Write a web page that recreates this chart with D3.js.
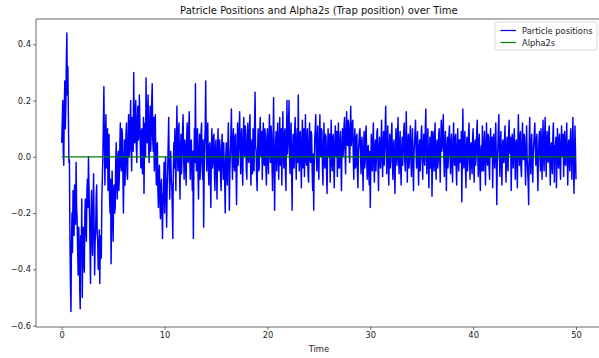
<!DOCTYPE html>
<html>
<head>
<meta charset="utf-8">
<script src="https://cdn.jsdelivr.net/npm/d3@7"></script>
<style>
  html, body { margin: 0; padding: 0; background: #fff; overflow: hidden; }
  svg { display: block; font-family: "DejaVu Sans", sans-serif; }
</style>
</head>
<body>
<svg id="chart" width="599" height="358"></svg>
<script>
// ---- data ----
const titleText = "Patricle Positions and Alpha2s (Trap position) over Time";
const xLabel = "Time";
const timeStart = 0;
const timeStep = 0.05;
// particle positions sampled every 0.05 time units from t = 0 to t = 50 (one row per time unit)
const positions = [
  0.05, 0.12, 0.20, 0.02, -0.03, 0.18, 0.27, 0.10, 0.18, 0.34, 0.44, 0.22, 0.32, 0.14, -0.02, -0.01, -0.30, -0.45, -0.55, -0.30,
  -0.20, -0.34, -0.12, -0.22, -0.28, -0.10, -0.16, -0.24, -0.02, -0.18, -0.22, -0.33, -0.42, -0.25, -0.30, -0.47, -0.54, -0.28, -0.36, -0.15,
  -0.50, -0.32, -0.25, -0.38, -0.41, -0.20, -0.15, -0.26, -0.30, -0.12, -0.08, -0.18, 0.00, -0.10, -0.20, -0.32, -0.45, -0.22, -0.12, -0.28,
  -0.35, -0.18, -0.06, -0.25, -0.42, -0.30, -0.26, -0.14, -0.10, -0.27, -0.30, -0.40, -0.38, -0.26, -0.45, -0.32, -0.28, -0.36, -0.15, -0.08,
  0.00, 0.12, 0.25, 0.05, -0.10, 0.06, 0.15, -0.04, 0.02, 0.10, -0.12, -0.02, 0.08, -0.14, -0.20, -0.08, -0.38, -0.22, -0.05, -0.16,
  -0.30, -0.12, -0.10, -0.20, -0.18, -0.02, 0.05, -0.10, -0.15, 0.00, 0.02, -0.12, -0.08, 0.04, 0.12, -0.03, -0.05, 0.10, 0.08, -0.06,
  -0.20, -0.04, 0.06, -0.10, -0.02, 0.08, 0.12, -0.06, -0.08, 0.04, 0.15, 0.00, 0.02, 0.12, 0.20, 0.03, -0.05, 0.14, 0.10, 0.02,
  0.30, 0.10, 0.05, 0.16, 0.20, 0.04, -0.02, 0.12, 0.18, 0.06, 0.08, 0.22, 0.12, 0.02, -0.04, 0.09, 0.10, -0.06, 0.00, 0.14,
  -0.13, 0.04, 0.12, 0.00, 0.28, 0.10, 0.05, 0.16, 0.22, 0.03, -0.02, 0.12, 0.18, 0.02, 0.08, 0.20, 0.26, 0.06, 0.02, 0.14,
  -0.05, 0.08, 0.15, -0.02, -0.10, 0.04, 0.05, -0.12, -0.18, -0.06, -0.03, -0.16, -0.22, -0.10, -0.08, -0.20, -0.29, -0.14, -0.12, -0.02,
  -0.20, -0.08, 0.00, -0.14, -0.25, -0.12, -0.05, 0.04, 0.14, -0.02, -0.15, -0.06, 0.02, -0.08, -0.10, -0.18, -0.29, -0.06, 0.05, -0.04,
  0.10, -0.02, -0.12, 0.06, 0.18, 0.02, -0.05, 0.09, 0.12, -0.04, -0.15, 0.03, 0.08, -0.06, 0.00, 0.10, 0.15, 0.01, -0.08, 0.06,
  0.05, -0.04, -0.10, 0.07, 0.12, -0.01, -0.02, 0.10, 0.16, 0.00, -0.08, 0.05, 0.06, -0.05, -0.12, 0.02, -0.29, -0.04, 0.10, -0.02,
  0.26, 0.04, -0.05, 0.08, 0.10, -0.06, -0.15, 0.02, 0.08, -0.08, -0.02, 0.09, 0.12, -0.03, -0.08, 0.06, -0.25, -0.06, 0.05, 0.10,
  0.27, 0.06, -0.05, 0.10, 0.12, -0.03, -0.10, 0.04, 0.05, -0.07, -0.18, 0.02, 0.10, -0.04, -0.02, 0.07, 0.08, -0.06, -0.12, 0.03,
  0.06, -0.04, -0.15, 0.02, 0.10, -0.03, -0.05, 0.06, 0.02, -0.08, -0.12, 0.04, 0.08, -0.02, -0.08, 0.05, -0.02, -0.10, -0.20, 0.00,
  0.05, -0.06, -0.10, 0.04, 0.12, -0.02, -0.19, -0.05, 0.02, 0.09, 0.17, 0.01, -0.08, 0.06, 0.10, -0.03, -0.05, 0.07, 0.08, -0.04,
  -0.17, 0.00, 0.12, -0.03, 0.02, 0.10, 0.16, 0.03, -0.06, 0.07, 0.10, -0.04, -0.10, 0.05, 0.14, 0.02, 0.00, 0.11, 0.08, -0.05,
  -0.08, 0.05, 0.12, -0.01, -0.02, 0.09, 0.15, 0.00, -0.10, 0.04, 0.06, -0.06, 0.10, 0.03, -0.05, 0.12, 0.23, 0.04, 0.02, -0.07,
  -0.12, 0.03, 0.10, -0.05, -0.04, 0.08, 0.14, 0.01, 0.00, 0.09, -0.08, 0.04, 0.12, -0.02, -0.03, 0.10, 0.08, -0.04, -0.10, 0.06,
  0.10, -0.01, -0.06, 0.07, 0.15, 0.02, -0.02, 0.11, 0.08, -0.04, -0.12, 0.05, 0.21, 0.00, -0.19, -0.02, 0.06, 0.09, -0.05, 0.04,
  0.12, 0.00, -0.08, 0.06, 0.14, -0.03, 0.00, 0.10, -0.10, 0.03, 0.16, 0.02, -0.04, 0.08, 0.10, -0.05, -0.12, 0.07, 0.20, 0.01,
  0.05, 0.11, 0.20, 0.00, -0.06, 0.08, 0.12, -0.04, -0.19, 0.02, 0.08, -0.03, -0.04, 0.09, 0.14, 0.01, -0.08, 0.05, 0.10, -0.02,
  0.22, 0.03, -0.05, 0.08, 0.09, -0.02, -0.11, 0.05, 0.13, -0.04, 0.02, 0.10, -0.07, 0.04, 0.15, -0.01, -0.03, 0.08, 0.10, -0.06,
  -0.09, 0.04, 0.12, -0.01, -0.02, 0.09, 0.08, -0.05, -0.12, 0.01, -0.19, -0.03, 0.06, 0.10, 0.15, 0.02, -0.05, 0.07, 0.11, -0.03,
  -0.08, 0.05, 0.15, 0.01, 0.00, 0.10, 0.09, -0.04, -0.10, 0.03, 0.12, -0.02, -0.04, 0.08, 0.07, -0.06, -0.13, 0.02, 0.10, 0.00,
  0.02, 0.08, -0.09, 0.03, 0.13, -0.02, -0.05, 0.07, 0.08, -0.03, -0.11, 0.04, 0.11, 0.01, 0.00, 0.09, -0.07, 0.03, 0.12, -0.04,
  -0.04, 0.06, 0.09, -0.02, -0.12, 0.04, 0.10, 0.00, 0.03, 0.11, 0.14, 0.02, -0.06, 0.08, 0.16, 0.05, 0.04, 0.13, 0.12, 0.01,
  -0.02, 0.09, 0.18, 0.04, 0.06, 0.12, 0.13, -0.01, -0.08, 0.05, 0.10, -0.04, -0.03, 0.07, 0.08, -0.05, -0.11, 0.02, 0.05, 0.09,
  0.10, 0.01, -0.06, 0.05, 0.07, -0.03, -0.12, 0.02, 0.09, -0.04, -0.02, 0.08, 0.11, 0.00, -0.08, 0.03, 0.04, -0.06, -0.10, 0.02,
  -0.18, -0.04, 0.08, 0.00, -0.05, 0.06, 0.12, -0.02, -0.09, 0.03, 0.06, -0.05, 0.01, 0.09, 0.10, -0.03, -0.12, 0.02, 0.07, -0.02,
  -0.04, 0.05, 0.13, 0.01, -0.07, 0.04, 0.09, -0.03, 0.02, 0.10, 0.18, 0.04, -0.06, 0.06, 0.11, -0.02, -0.10, 0.03, 0.08, -0.04,
  0.00, 0.07, 0.12, -0.02, -0.08, 0.04, 0.06, -0.05, -0.13, 0.02, 0.10, 0.01, -0.03, 0.08, 0.14, 0.00, -0.06, 0.05, 0.09, -0.03,
  -0.10, 0.02, 0.07, -0.03, 0.02, 0.09, 0.12, -0.01, -0.05, 0.06, 0.16, 0.03, -0.09, 0.04, 0.08, -0.04, -0.02, 0.07, 0.11, 0.00,
  -0.07, 0.04, 0.10, -0.02, -0.12, 0.01, 0.05, 0.09, 0.13, 0.02, -0.04, 0.06, 0.09, -0.03, -0.10, 0.03, 0.06, -0.05, 0.00, 0.08,
  0.11, 0.00, -0.08, 0.04, 0.08, -0.01, -0.03, 0.10, 0.17, 0.03, -0.06, 0.05, 0.10, -0.02, -0.11, 0.01, 0.07, -0.04, 0.02, 0.09,
  -0.14, -0.02, 0.09, 0.01, -0.05, 0.07, 0.12, -0.03, -0.08, 0.04, 0.06, -0.04, -0.02, 0.08, 0.10, 0.00, -0.09, 0.05, 0.13, 0.02,
  0.04, 0.10, 0.15, 0.00, -0.07, 0.05, 0.09, -0.02, -0.12, 0.03, 0.07, -0.04, 0.00, 0.08, 0.11, 0.01, -0.06, 0.04, 0.08, -0.03,
  -0.09, 0.03, 0.12, -0.01, -0.03, 0.07, 0.08, -0.04, -0.10, 0.02, 0.10, 0.00, -0.05, 0.06, 0.06, -0.02, 0.01, 0.09, -0.16, 0.00,
  0.17, 0.02, -0.04, 0.06, 0.09, -0.03, -0.11, 0.03, 0.07, -0.05, -0.02, 0.08, 0.12, 0.00, -0.08, 0.04, 0.05, -0.03, -0.06, 0.07,
  0.10, -0.02, -0.09, 0.04, 0.06, -0.03, 0.01, 0.09, 0.13, 0.00, -0.07, 0.05, 0.08, -0.04, -0.12, 0.02, 0.04, -0.05, 0.11, 0.01,
  -0.05, 0.04, 0.09, -0.02, -0.10, 0.03, 0.12, -0.01, -0.03, 0.08, 0.07, -0.04, -0.08, 0.05, 0.10, 0.00, 0.00, 0.07, -0.11, 0.02,
  0.08, -0.01, -0.04, 0.06, 0.12, 0.00, -0.17, -0.02, 0.03, 0.10, 0.15, 0.02, -0.07, 0.05, 0.09, -0.03, -0.10, 0.04, 0.06, -0.02,
  -0.02, 0.06, 0.11, 0.00, -0.09, 0.03, 0.07, -0.03, -0.05, 0.08, 0.13, 0.02, 0.01, 0.07, -0.12, -0.01, 0.08, 0.03, -0.04, 0.05,
  0.10, 0.01, -0.08, 0.04, 0.06, -0.02, -0.11, 0.05, 0.15, 0.02, -0.03, 0.07, 0.09, -0.04, -0.07, 0.03, 0.12, 0.00, -0.01, 0.08,
  0.07, -0.02, -0.10, 0.03, 0.11, 0.00, -0.05, -0.09, -0.17, 0.04, 0.14, 0.01, -0.06, 0.05, 0.08, -0.03, -0.09, 0.02, 0.05, 0.09,
  0.12, 0.02, -0.03, 0.06, 0.08, -0.04, -0.12, 0.01, 0.06, 0.09, 0.00, -0.05, 0.10, 0.03, -0.08, 0.04, 0.13, 0.00, -0.05, 0.07,
  0.14, 0.03, -0.07, 0.05, 0.09, -0.01, -0.02, 0.08, 0.11, 0.00, -0.10, 0.02, 0.05, -0.03, -0.06, 0.07, 0.12, 0.01, -0.09, 0.04,
  0.03, 0.07, -0.11, -0.01, 0.10, 0.02, -0.04, 0.06, 0.08, -0.03, -0.08, 0.04, 0.11, 0.01, 0.00, 0.08, -0.07, 0.02, 0.09, -0.02,
  -0.03, 0.05, 0.12, 0.00, -0.10, 0.03, 0.06, -0.02, -0.05, 0.07, 0.10, -0.01, -0.08, 0.04, 0.14, 0.02, -0.13, -0.04, 0.11, 0.03,
  -0.08
];
// trap position (alpha2s) – constant at zero over the run
const alphaTimes = [0, 50];
const alpha2s = [0, 0];
const xTicks = [0, 10, 20, 30, 40, 50];
const yTicks = [-0.6, -0.4, -0.2, 0.0, 0.2, 0.4];
const seriesNames = ["Particle positions", "Alpha2s"];
const seriesColors = ["#0000ff", "#008000"];

// ---- layout ----
const svg = d3.select("#chart");
const mLeft = 36, mRight = 601.7, mTop = 19, mBottom = 327;

const x = d3.scaleLinear().domain([-2.5, 52.5]).range([mLeft, mRight]);
const y = d3.scaleLinear().domain([-0.605, 0.49]).range([mBottom, mTop]);

svg.append("rect").attr("width", 599).attr("height", 358).attr("fill", "#fff");

svg.append("defs").append("clipPath").attr("id", "clip")
  .append("rect").attr("x", mLeft).attr("y", mTop)
  .attr("width", mRight - mLeft).attr("height", mBottom - mTop);

const posData = positions.map((v, i) => [timeStart + i * timeStep, v]);
const alphaData = alpha2s.map((v, i) => [alphaTimes[i], v]);

const line = d3.line().x(d => x(d[0])).y(d => y(d[1]));

const plot = svg.append("g").attr("clip-path", "url(#clip)");
plot.append("path").datum(posData)
  .attr("d", line).attr("fill", "none")
  .attr("stroke", seriesColors[0]).attr("stroke-width", 1.45)
  .attr("stroke-linejoin", "round");
plot.append("path").datum(alphaData)
  .attr("d", line).attr("fill", "none")
  .attr("stroke", seriesColors[1]).attr("stroke-width", 1.3);

// axes
const fontSize = "8.3px";
const xAxis = svg.append("g").attr("transform", `translate(0,${mBottom})`)
  .call(d3.axisBottom(x).tickValues(xTicks).tickSize(3).tickPadding(2).tickFormat(d3.format("d")));
const yAxis = svg.append("g").attr("transform", `translate(${mLeft},0)`)
  .call(d3.axisLeft(y).tickValues(yTicks).tickSize(3).tickPadding(2)
    .tickFormat(d => d3.format(".1f")(d).replace("-", "\u2212")));
[xAxis, yAxis].forEach(a => {
  a.select(".domain").remove();
  a.selectAll("line").attr("stroke", "#333").attr("stroke-width", 0.7);
  a.selectAll("text").attr("fill", "#222").style("font-size", fontSize)
    .style("font-family", "'DejaVu Sans', sans-serif");
});

// spines (left, top, bottom; right falls outside the picture)
const spine = svg.append("g").attr("stroke", "#444").attr("stroke-width", 0.8).attr("fill", "none");
spine.append("line").attr("x1", mLeft).attr("x2", mLeft).attr("y1", mTop).attr("y2", mBottom);
spine.append("line").attr("x1", mLeft).attr("x2", mRight).attr("y1", mTop).attr("y2", mTop);
spine.append("line").attr("x1", mLeft).attr("x2", mRight).attr("y1", mBottom).attr("y2", mBottom);
spine.append("line").attr("x1", mRight).attr("x2", mRight).attr("y1", mTop).attr("y2", mBottom);

// title and label
svg.append("text").attr("x", (mLeft + mRight) / 2).attr("y", 14)
  .attr("text-anchor", "middle").style("font-size", "10px").attr("fill", "#111")
  .text(titleText);
svg.append("text").attr("x", (mLeft + mRight) / 2).attr("y", 352)
  .attr("text-anchor", "middle").style("font-size", fontSize).attr("fill", "#222")
  .text(xLabel);

// legend
const lg = svg.append("g").attr("transform", "translate(495,22)");
lg.append("rect").attr("width", 102).attr("height", 28).attr("rx", 2)
  .attr("fill", "#fff").attr("fill-opacity", 0.8).attr("stroke", "#d0d0d0").attr("stroke-width", 0.8);
seriesNames.forEach((name, i) => {
  const yy = 8.5 + i * 12;
  lg.append("line").attr("x1", 5.5).attr("x2", 21).attr("y1", yy).attr("y2", yy)
    .attr("stroke", seriesColors[i]).attr("stroke-width", 1.25);
  lg.append("text").attr("x", 27).attr("y", yy + 3)
    .style("font-size", fontSize).attr("fill", "#222").text(name);
});
</script>
</body>
</html>
